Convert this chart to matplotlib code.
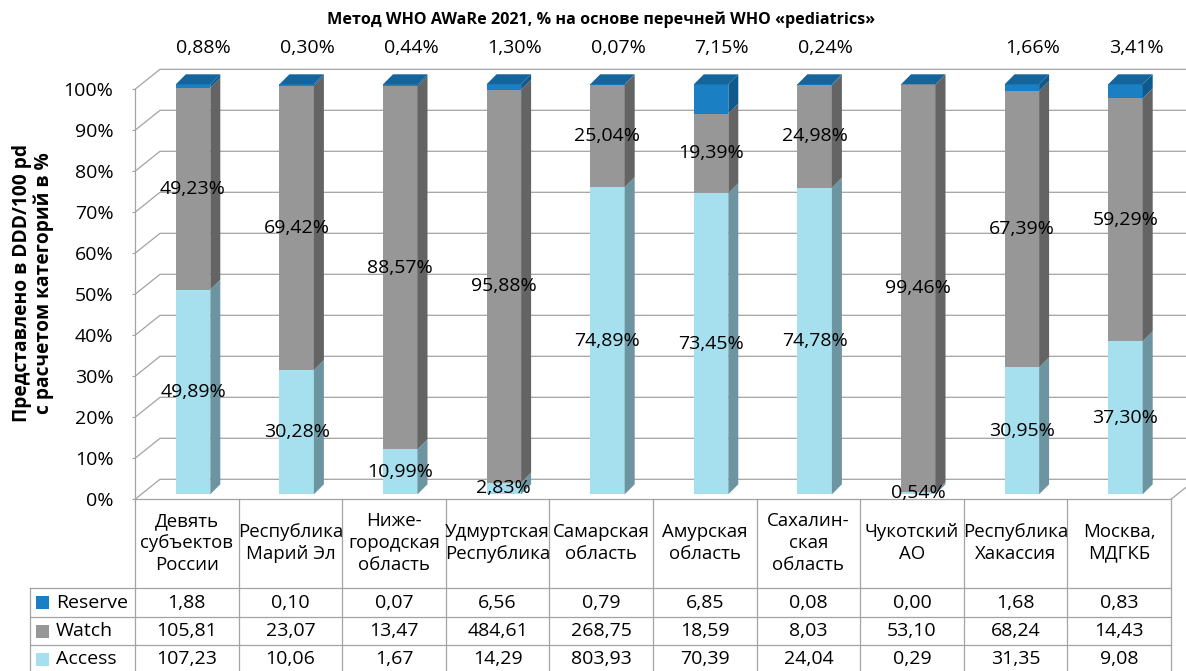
import matplotlib.pyplot as plt
import matplotlib.transforms as mtransforms
from matplotlib.patches import Polygon, Rectangle

plt.rcParams['font.family'] = ['Open Sans', 'DejaVu Sans']

regions = ["Девять\nсубъектов\nРоссии", "Республика\nМарий Эл", "Ниже-\nгородская\nобласть",
           "Удмуртская\nРеспублика", "Самарская\nобласть", "Амурская\nобласть",
           "Сахалин-\nская\nобласть", "Чукотский\nАО", "Республика\nХакассия", "Москва,\nМДГКБ"]

# shares of each AWaRe group, %
access_pct = [49.89, 30.28, 10.99, 2.83, 74.89, 73.45, 74.78, 0.54, 30.95, 37.30]
watch_pct = [49.23, 69.42, 88.57, 95.88, 25.04, 19.39, 24.98, 99.46, 67.39, 59.29]
reserve_pct = [0.88, 0.30, 0.44, 1.30, 0.07, 7.15, 0.24, 0.00, 1.66, 3.41]

# DDD/100 pd values for the table
reserve_ddd = [1.88, 0.10, 0.07, 6.56, 0.79, 6.85, 0.08, 0.00, 1.68, 0.83]
watch_ddd = [105.81, 23.07, 13.47, 484.61, 268.75, 18.59, 8.03, 53.10, 68.24, 14.43]
access_ddd = [107.23, 10.06, 1.67, 14.29, 803.93, 70.39, 24.04, 0.29, 31.35, 9.08]

series_names = ["Reserve", "Watch", "Access"]

c_access, c_access_side = "#a6dfed", "#6c95a1"
c_watch, c_watch_side = "#979797", "#646464"
c_reserve, c_reserve_side, c_reserve_top = "#1a7fc3", "#0f5a8c", "#15649c"
grid_c = "#a3a3a3"
FS = 14


def pct(v):
    return f"{v:.2f}".replace('.', ',') + '%'


def num(v):
    return f"{v:.2f}".replace('.', ',')


W, H = 1186, 671
fig = plt.figure(figsize=(W / 100, H / 100), dpi=100)

# front plane of the 3D plot box, pixels
X0, X1 = 135, 1171
Y0, Y100 = 499.3, 89.3
ax = fig.add_axes([X0 / W, 1 - Y0 / H, (X1 - X0) / W, (Y0 - Y100) / H])
n = len(regions)
ax.set_xlim(-0.5, n - 0.5)
ax.set_ylim(0, 100)

cat_px = (X1 - X0) / n
pct_px = (Y0 - Y100) / 100
dx, dy = 25 / cat_px, 20 / pct_px          # wall depth in data units

pix = mtransforms.Affine2D().scale(1, -1).translate(0, H).scale(1 / W, 1 / H) + fig.transFigure
xpix = mtransforms.blended_transform_factory(ax.transData, pix)

# side wall + back wall gridlines
for v in range(0, 101, 10):
    ax.plot([-0.5, -0.5 + dx, n - 0.5 + dx], [v, v + dy, v + dy], color=grid_c, lw=0.9,
            clip_on=False, zorder=1)
ax.plot([n - 0.5, n - 0.5 + dx], [0, dy], color=grid_c, lw=0.9, clip_on=False, zorder=1)

# bars
fdx, fdy = 0.25 * dx, 0.25 * dy
bdx, bdy = 10 / cat_px, 10 / pct_px
bw = 34.5 / cat_px
series = [(access_pct, c_access, c_access_side),
          (watch_pct, c_watch, c_watch_side),
          (reserve_pct, c_reserve, c_reserve_side)]
for i in range(n):
    xl = i - bw / 2 + fdx
    xr = xl + bw
    base = fdy
    for vals, face, side in series:
        h = vals[i]
        if h > 0:
            ax.add_patch(Rectangle((xl, base), bw, h, fc=face, ec='none', zorder=3, clip_on=False))
            ax.add_patch(Polygon([(xr, base), (xr + bdx, base + bdy), (xr + bdx, base + h + bdy),
                                  (xr, base + h)], closed=True, fc=side, ec='none', zorder=3,
                                 clip_on=False))
        base += h
    ax.add_patch(Polygon([(xl, base), (xr, base), (xr + bdx, base + bdy), (xl + bdx, base + bdy)],
                         closed=True, fc=c_reserve_top, ec='none', zorder=3, clip_on=False))

    a, w, r = access_pct[i], watch_pct[i], reserve_pct[i]
    ax.text(i + fdx, fdy + a / 2, pct(a), ha='center', va='center', fontsize=FS, zorder=5)
    ax.text(i + fdx, fdy + a + w / 2, pct(w), ha='center', va='center', fontsize=FS, zorder=5)
    if r > 0:
        ax.text(i + 17 / cat_px, 48, pct(r), transform=xpix, ha='center', va='center',
                fontsize=FS)

# axes styling
ax.set_xticks([])
ax.set_yticks(range(0, 101, 10))
ax.set_yticklabels([f"{v}%" for v in range(0, 101, 10)], fontsize=FS)
ax.tick_params(axis='y', length=2.5, width=0.8, color=grid_c, pad=13)
for s in ['top', 'right', 'bottom']:
    ax.spines[s].set_visible(False)
ax.spines['left'].set_color(grid_c)
ax.spines['left'].set_linewidth(0.9)
ax.patch.set_visible(False)

fig.text(601 / W, 1 - 20 / H, "Метод WHO AWaRe 2021, % на основе перечней WHO «pediatrics»",
         ha='center', va='center', fontsize=11.6, fontweight='bold')
fig.text(33 / W, 1 - 283 / H, "Представлено в DDD/100 pd\nс расчетом категорий в %",
         rotation=90, ha='center', va='center', fontsize=13.8, fontweight='bold', linespacing=1.1)

# data table under the plot
row_lines = [588, 617, 645]
row_mid = [602.5, 631, 659]
ax.plot([X0, X1], [Y0, Y0], color=grid_c, lw=0.9, transform=pix, clip_on=False)
for yl in row_lines:
    ax.plot([30, X1], [yl, yl], color=grid_c, lw=0.9, transform=pix, clip_on=False)
for k in range(n + 1):
    xk = X0 + k * cat_px
    ax.plot([xk, xk], [Y0, H + 2], color=grid_c, lw=0.9, transform=pix, clip_on=False)
ax.plot([30, 30], [588, H + 2], color=grid_c, lw=0.9, transform=pix, clip_on=False)

for i, name in enumerate(regions):
    ax.text(i, 543, name, transform=xpix, ha='center', va='center', fontsize=13.4,
            linespacing=1.25)

rows = [(reserve_ddd, c_reserve), (watch_ddd, c_watch), (access_ddd, c_access)]
for (vals, col), label, ym in zip(rows, series_names, row_mid):
    ax.add_patch(Rectangle((36, ym - 6.5), 13, 13, fc=col, ec='none', transform=pix,
                           clip_on=False))
    ax.text(56, ym, label, transform=pix, ha='left', va='center', fontsize=FS)
    for i, v in enumerate(vals):
        ax.text(i, ym, num(v), transform=xpix, ha='center', va='center', fontsize=FS)

fig.savefig("out.png", dpi=100)
